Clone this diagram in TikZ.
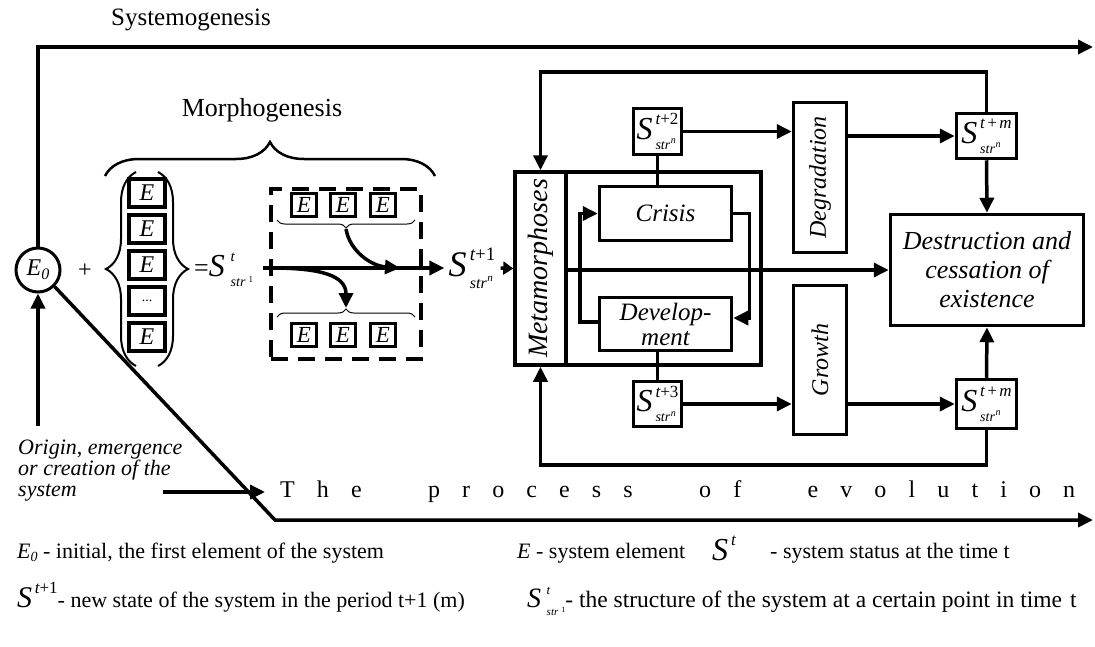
\documentclass[tikz,border=0pt]{standalone}
\usepackage{fontspec}
\setmainfont{Liberation Serif}
\usetikzlibrary{arrows.meta,decorations.pathreplacing,calc}
\newcommand{\SupSub}[4]{%
 \setbox0\hbox{\raisebox{#3}{#1}}%
 \setbox2\hbox{\raisebox{-#4}{#2}}%
 \ifdim\wd0>\wd2 \dimen0=\wd0 \else\dimen0=\wd2 \fi
 \hbox to\dimen0{\rlap{\box0}\box2\hss}}
% #1 S size, #2 sup size, #3 sub size, #4 sup, #5 sub
\newcommand{\Sv}[5]{{\fontsize{#1}{#1}\selectfont\itshape S}\kern\dimexpr #1pt*9/100\relax\SupSub{\fontsize{#2}{#2}\selectfont #4}{\fontsize{#3}{#3}\selectfont #5}{\dimexpr #1pt*46/100\relax}{\dimexpr #1pt*31/100\relax}}
\newcommand{\strn}[2]{\itshape str\kern0.5pt\raisebox{0.4em}{\fontsize{#1}{#1}\selectfont\itshape #2}}
\newcommand{\strone}[1]{\kern3pt\itshape str\/\kern3pt\raisebox{0.3em}{\fontsize{#1}{#1}\selectfont\upshape 1}}
\begin{document}
\begin{tikzpicture}[x=1pt,y=-1pt,
  ln/.style={line width=3.5pt},
  arr/.style={line width=3.5pt,-{Triangle[length=15pt,width=14pt]}},
  arrs/.style={line width=3.5pt,-{Triangle[length=10pt,width=13pt]}},
  bx/.style={draw,line width=3.5pt,inner sep=0pt,fill=white},
  ebox/.style={draw,line width=3.2pt,inner sep=0pt,minimum width=36pt,minimum height=28pt,font=\fontsize{24}{24}\selectfont\itshape},
  esm/.style={draw,line width=3.2pt,inner sep=0pt,minimum width=25pt,minimum height=23pt,font=\fontsize{23}{23}\selectfont\itshape},
  lab/.style={font=\fontsize{25}{25}\selectfont\itshape},
  brc/.style={line width=2pt,decorate,decoration={brace,amplitude=#1}},
  leg/.style={anchor=base west,inner sep=0pt,font=\fontsize{22}{22}\selectfont}
]
\useasboundingbox (0,0) rectangle (1095,646);

% ---- titles
\node[font=\fontsize{25}{25}\selectfont] (sysl) at (191,20) {Systemogenesis};
\node[font=\fontsize{26}{26}\selectfont] (morl) at (262,110) {Morphogenesis};

% ---- E0 and main timelines
\node[draw,circle,line width=3pt,minimum size=44pt,inner sep=0pt,fill=white,
  font=\fontsize{24}{24}\selectfont\itshape] (e0) at (38,270) {E\raisebox{-4pt}{\fontsize{16}{16}\selectfont 0}};
\coordinate (sysc) at (38,47);
\coordinate (sysend) at (1093,47);
\draw[arr] (e0.north) -- (sysc) -- (sysend);
\coordinate (orig) at (38,426);
\draw[arr] (orig) -- (e0.south);
\coordinate (dk) at (275,520);
\coordinate (evend) at (1093,520);
\draw[arr] (e0.-45) -- (dk) -- (evend);

\node[anchor=north west,align=left,inner sep=0pt,font=\fontsize{22}{21}\selectfont\itshape] (origl) at (18,440)
  {Origin, emergence\\or creation of the\\system};
\coordinate (eva) at (163,492);
\node[anchor=west,inner xsep=15pt,inner ysep=0pt,font=\fontsize{24}{24}\selectfont] (evl) at (265,492)
  {\makebox[795pt][s]{T\hfill h\hfill e\hfill\hfill\hfill p\hfill r\hfill o\hfill c\hfill e\hfill s\hfill s\hfill\hfill\hfill o\hfill f\hfill\hfill\hfill e\hfill v\hfill o\hfill l\hfill u\hfill t\hfill i\hfill o\hfill n}};
\draw[arr] (eva) -- (evl.west);

% ---- morphogenesis part
\node[font=\fontsize{24}{24}\selectfont] (plus) at (85,271) {+};
\node[ebox] (c1) at (147,193) {E};
\node[ebox] (c2) at (147,229) {E};
\node[ebox] (c3) at (147,265) {E};
\node[ebox,font=\fontsize{14}{14}\selectfont] (c4) at (147,301) {...};
\node[ebox] (c5) at (147,337) {E};
\coordinate (lbA) at (136,366);
\coordinate (lbB) at (136,172);
\coordinate (rbA) at (158,172);
\coordinate (rbB) at (158,366);
\draw[brc=30pt] (lbA) -- (lbB);
\draw[brc=30pt] (rbA) -- (rbB);
\coordinate (mbA) at (105,176);
\coordinate (mbB) at (435,176);
\draw[brc=34pt,line width=2.5pt] (mbA) -- (mbB);

\node[anchor=west,inner sep=0pt] (st) at (194,270)
  {\fontsize{26}{26}\selectfont =\Sv{32}{15}{14}{\kern3pt\itshape t}{\strone{9}}};

\node[draw,line width=4pt,dash pattern=on 17pt off 10pt,minimum width=150pt,minimum height=170pt,inner sep=0pt] (drect) at (346,274) {};

\node[esm] (t1) at (304,205) {E};
\node[esm] (t2) at (343,205) {E};
\node[esm] (t3) at (383,205) {E};
\node[esm] (b1) at (304,335) {E};
\node[esm] (b2) at (343,335) {E};
\node[esm] (b3) at (383,335) {E};
\coordinate (tbA) at (415,220);
\coordinate (tbB) at (277,220);
\coordinate (bbA) at (277,317);
\coordinate (bbB) at (415,317);
\draw[line width=1pt,decorate,decoration={brace,amplitude=8pt}] (tbA) -- (tbB);
\draw[line width=1pt,decorate,decoration={brace,amplitude=8pt}] (bbA) -- (bbB);
\coordinate (tbt) at (346,229);
\coordinate (cur1) at (400,268);
\coordinate (lbs) at (272,268);
\coordinate (lbt) at (346,308);

\coordinate (mls) at (263,268);
\node[inner xsep=4pt,inner ysep=0pt] (st1) at (472,268) {\Sv{36}{19}{16}{\itshape t\upshape+1}{\strn{11}{n}}};
\draw[arr] (mls) -- (st1.west);
\draw[arr] (tbt) .. controls (350,252) and (372,266) .. (cur1);
\draw[arr] (lbs) .. controls (322,268) and (346,276) .. (lbt);

% ---- right part
\node[bx,minimum width=246pt,minimum height=193pt] (big) at (638,268.5) {};
\node[bx,minimum width=51pt,minimum height=193pt,font=\fontsize{28}{28}\selectfont\itshape] (meta) at (540.5,268.5) {\rotatebox{90}{Metamorphoses}};
\draw[arrs] ([xshift=1pt]st1.east) -- (meta.west);
\node[bx,minimum width=132pt,minimum height=54pt,lab] (crisis) at (665.5,213.5) {Crisis};
\node[bx,minimum width=132pt,minimum height=53pt,align=center,font=\fontsize{25}{25}\selectfont\itshape] (devel) at (665.5,324) {Develop-\\ment};
\node[bx,minimum width=48pt,minimum height=46pt] (s2) at (657.5,131.5) {\Sv{32}{17}{14}{\itshape t\upshape+2}{\strn{10}{n}}};
\node[bx,minimum width=48pt,minimum height=45pt] (s3) at (657.5,404) {\Sv{32}{17}{14}{\itshape t\upshape+3}{\strn{10}{n}}};
\node[bx,minimum width=53pt,minimum height=150pt,font=\fontsize{24}{24}\selectfont\itshape] (degr) at (820,177.5) {\rotatebox{90}{Degradation}};
\node[bx,minimum width=53pt,minimum height=149pt,font=\fontsize{24}{24}\selectfont\itshape] (grow) at (820,360) {\rotatebox{90}{Growth}};
\node[bx,minimum width=60pt,minimum height=45pt] (smt) at (986.5,136) {\Sv{32}{17}{14}{\itshape t\kern1.5pt+\kern1.5pt m}{\strn{10}{n}}};
\node[bx,minimum width=60pt,minimum height=49pt] (smb) at (986.5,404) {\Sv{32}{17}{14}{\itshape t\kern1.5pt+\kern1.5pt m}{\strn{10}{n}}};
\node[bx,minimum width=193pt,minimum height=111pt,align=center,font=\fontsize{26}{29}\selectfont\itshape] (destr) at (987,270)
  {Destruction and\\cessation of\\existence};

\draw[ln] (s2.south) -- (s2.south |- crisis.north);
\draw[ln] (devel.south -| s3.north) -- (s3.north);
\draw[arr] (crisis.east) -- ++(16,0) |- ([yshift=6pt]devel.east);
\draw[arr] ([yshift=2pt]devel.west) -- ++(-18,0) |- (crisis.west);
\draw[arr] (meta.east |- destr.west) -- (destr.west);
\draw[arr] (s2.east) -- (s2.east -| degr.west);
\draw[arr] (degr.east |- smt.west) -- (smt.west);
\draw[arr] (smt.south) -- (destr.north);
\draw[arr] (s3.east) -- (s3.east -| grow.west);
\draw[arr] (grow.east |- smb.west) -- (smb.west);
\draw[arr] (smb.north) -- (destr.south);
\coordinate (tl) at (540.5,72);
\coordinate (bl) at (540.5,465);
\draw[arr] (smt.north) |- (tl) -- (meta.north);
\draw[arr] (smb.south) |- (bl) -- (meta.south);

% ---- legend
\node[leg] (lg1) at (17,558) {\itshape E\raisebox{-3pt}{\fontsize{14}{14}\selectfont 0}\upshape\ - initial, the first element of the system};
\node[leg] (lg2) at (517,558) {\itshape E\upshape\ - system element};
\node[leg] (lg3) at (712,560) {\Sv{32}{17}{14}{\itshape t}{}};
\node[leg] (lg4) at (770,558) {- system status at the time t};
\node[leg] (lg5) at (17,607) {\Sv{30}{17}{14}{\itshape t\upshape+1}{}- new state of the system in the period t+1 (m)};
\node[leg,font=\fontsize{23.5}{23.5}\selectfont] (lg6) at (527,607) {\Sv{28}{13}{11}{\kern3pt\itshape t}{\strone{8}}- the structure of the system at a certain point in time\hspace{8pt}t};
\end{tikzpicture}
\end{document}
